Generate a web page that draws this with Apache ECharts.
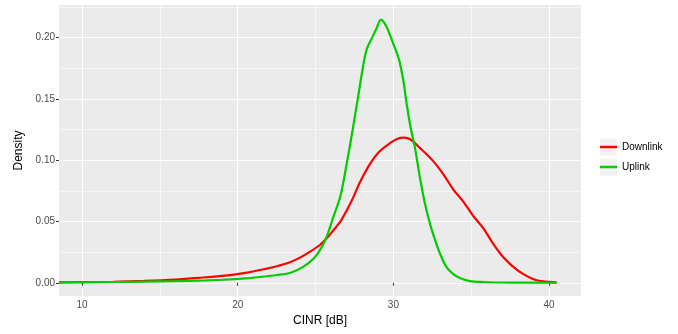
<!DOCTYPE html>
<html>
<head>
<meta charset="utf-8">
<script src="https://cdn.jsdelivr.net/npm/echarts@6/dist/echarts.min.js"></script>
<style>html,body{margin:0;padding:0;background:#fff}#c{width:678px;height:334px}</style>
</head>
<body>
<div id="c"></div>
<script>
// CINR values (dB) and densities
var uplinkX = [8.52,10,12,14,16,18,19.5,20.5,21.6,22.5,23.4,24.2,24.9,25.3,25.7,26.1,26.6,27.0,27.4,27.75,28.1,28.3,28.6,28.9,29.2,29.55,29.9,30.2,30.4,30.65,30.85,31.1,31.4,31.7,32.0,32.35,32.7,33.0,33.4,33.85,34.3,34.9,35.8,37,38.5,40.5];
var uplinkY = [0.0002,0.0004,0.0006,0.0009,0.0013,0.0019,0.0027,0.0035,0.0049,0.0063,0.0082,0.013,0.020,0.027,0.037,0.052,0.071,0.097,0.126,0.153,0.180,0.191,0.199,0.207,0.2145,0.209,0.198,0.188,0.180,0.164,0.146,0.127,0.109,0.086,0.066,0.048,0.034,0.0235,0.013,0.007,0.0036,0.0014,0.0006,0.0002,0.0001,0.0];
var downlinkX = [8.52,10,12,14,16,17.5,19.5,20.5,21.6,22.5,23.4,24.0,24.6,25.3,25.7,26.1,26.6,27.0,27.4,27.85,28.5,29.1,29.8,30.3,30.7,31.1,31.7,32.5,33.2,33.85,34.5,35.1,35.8,36.4,37.05,37.7,38.35,39.0,39.6,40.5];
var downlinkY = [0.0003,0.0005,0.0008,0.0015,0.0026,0.0040,0.0062,0.0080,0.0108,0.0135,0.017,0.0205,0.025,0.031,0.036,0.042,0.050,0.059,0.069,0.082,0.097,0.107,0.114,0.1177,0.1183,0.1168,0.110,0.100,0.0886,0.076,0.066,0.055,0.044,0.032,0.021,0.013,0.007,0.0028,0.0011,0.0002];
var xMajorTicks = [10,20,30,40];
var xMinorTicks = [15,25,35];
var yMajorTicks = [0,0.05,0.10,0.15,0.20];
var yMinorTicks = [0.025,0.075,0.125,0.175,0.225];
var seriesNames = ['Downlink','Uplink'];

function pairs(xs, ys){ return xs.map(function(x,i){ return [x, ys[i]]; }); }

var xMin = 8.52, xMax = 42.05, yMin = -0.0108, yMax = 0.2265;
var chart = echarts.init(document.getElementById('c'), null, {renderer:'canvas'});
chart.setOption({
  animation:false,
  backgroundColor:'#ffffff',
  grid:{left:59,right:97,top:5,bottom:38,show:true,backgroundColor:'#EBEBEB',borderWidth:0},
  xAxis:[{
    type:'value',min:xMin,max:xMax,position:'bottom',
    name:'CINR [dB]',nameLocation:'middle',nameGap:19,
    nameTextStyle:{color:'#000',fontSize:12,fontFamily:'Liberation Sans'},
    axisLine:{show:false},
    axisTick:{show:true,length:3,lineStyle:{color:'#333333',width:1},customValues:xMajorTicks},
    axisLabel:{color:'#4D4D4D',fontSize:10,fontFamily:'Liberation Sans',margin:4,customValues:xMajorTicks,formatter:function(v){return String(v);}},
    splitLine:{show:true,lineStyle:{color:'#ffffff',width:1.1}}
  },{
    type:'value',min:xMin,max:xMax,position:'top',
    axisLine:{show:false},
    axisTick:{show:false,customValues:xMinorTicks},
    axisLabel:{show:false,customValues:xMinorTicks},
    splitLine:{show:true,lineStyle:{color:'#ffffff',width:0.55}}
  }],
  yAxis:[{
    type:'value',min:yMin,max:yMax,position:'left',
    name:'Density',nameLocation:'middle',nameGap:33,nameRotate:90,
    nameTextStyle:{color:'#000',fontSize:12,fontFamily:'Liberation Sans'},
    axisLine:{show:false},
    axisTick:{show:true,length:3,lineStyle:{color:'#333333',width:1},customValues:yMajorTicks},
    axisLabel:{color:'#4D4D4D',fontSize:10,fontFamily:'Liberation Sans',margin:4,customValues:yMajorTicks,formatter:function(v){return v.toFixed(2);}},
    splitLine:{show:true,lineStyle:{color:'#ffffff',width:1.1}}
  },{
    type:'value',min:yMin,max:yMax,position:'right',
    axisLine:{show:false},
    axisTick:{show:false,customValues:yMinorTicks},
    axisLabel:{show:false,customValues:yMinorTicks},
    splitLine:{show:true,lineStyle:{color:'#ffffff',width:0.55}}
  }],
  legend:{
    orient:'vertical',left:600,top:138.5,padding:0,itemGap:3,
    itemWidth:17,itemHeight:2.5,icon:'rect',
    textStyle:{color:'#000',fontSize:10,fontFamily:'Liberation Sans',lineHeight:17},
    data:seriesNames
  },
  graphic:[
    {type:'rect',shape:{x:600,y:138.5,width:17,height:17},style:{fill:'#F2F2F2'},z:-1},
    {type:'rect',shape:{x:600,y:158.5,width:17,height:17},style:{fill:'#F2F2F2'},z:-1}
  ],
  series:[
    {name:seriesNames[0],type:'line',xAxisIndex:0,yAxisIndex:0,data:pairs(downlinkX,downlinkY),smooth:0.3,showSymbol:false,symbol:'none',lineStyle:{color:'#FF0000',width:2.2},itemStyle:{color:'#FF0000'}},
    {name:seriesNames[1],type:'line',xAxisIndex:0,yAxisIndex:0,data:pairs(uplinkX,uplinkY),smooth:0.3,showSymbol:false,symbol:'none',lineStyle:{color:'#00CD00',width:2.2},itemStyle:{color:'#00CD00'}}
  ]
});
</script>
</body>
</html>
